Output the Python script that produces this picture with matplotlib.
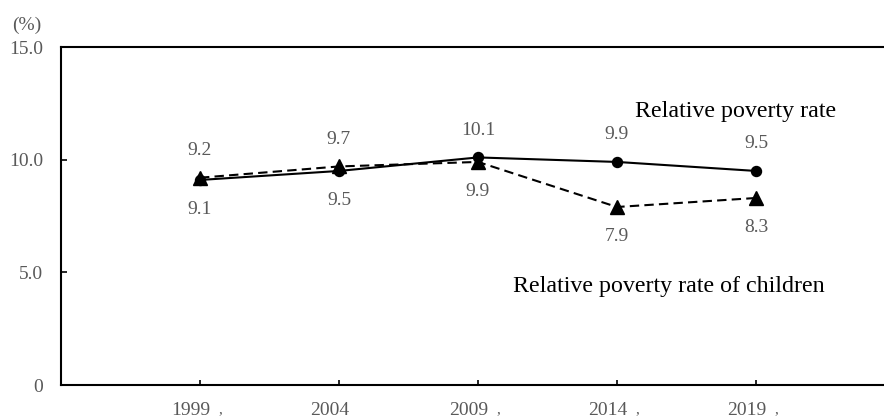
import matplotlib
matplotlib.use('Agg')
import matplotlib.pyplot as plt

years = ['1999', '2004', '2009', '2014', '2019']
year_marks = [',', '', ',', ',', ',']
poverty_rate = [9.1, 9.5, 10.1, 9.9, 9.5]
child_poverty_rate = [9.2, 9.7, 9.9, 7.9, 8.3]
# label placement: +1 above the point, -1 below
poverty_label_side = [-1, -1, 1, 1, 1]
child_label_side = [1, 1, -1, -1, -1]

plt.rcParams['font.family'] = ['Liberation Serif', 'DejaVu Serif']
gray = '#595959'

fig = plt.figure(figsize=(8.84, 4.19), dpi=100)
ax = fig.add_axes([0.069, 0.0811, 0.9434, 0.8067])

x = list(range(len(years)))
ax.plot(x, poverty_rate, color='black', lw=1.5, marker='o', markersize=7.2)
ax.plot(x, child_poverty_rate, color='black', lw=1.5, ls=(0, (4.5, 2.5)),
        marker='^', markersize=9.5)

for i in x:
    s = poverty_label_side[i]
    ax.annotate(f'{poverty_rate[i]:.1f}', (i, poverty_rate[i]),
                xytext=(0, 19.5 if s > 0 else -21), textcoords='offset points',
                ha='center', va='center', fontsize=14, color=gray)
    s = child_label_side[i]
    ax.annotate(f'{child_poverty_rate[i]:.1f}', (i, child_poverty_rate[i]),
                xytext=(0, 19.5 if s > 0 else -21), textcoords='offset points',
                ha='center', va='center', fontsize=14, color=gray)

ax.text(3.13, 12.16, 'Relative poverty rate', fontsize=17.3, color='black',
        ha='left', va='center')
ax.text(2.25, 4.39, 'Relative poverty rate of children', fontsize=17.3,
        color='black', ha='left', va='center')

ax.set_xlim(-1, 5)
ax.set_ylim(0, 15)
ax.set_xticks(x)
ax.set_xticklabels([])
# year labels sit a little left of the tick, small marks follow to the right
for i in x:
    ax.annotate(years[i], (i, 0), xycoords=('data', 'axes fraction'),
                xytext=(-6.8, -21.5), textcoords='offset points',
                ha='center', va='baseline', fontsize=14, color=gray,
                annotation_clip=False)
    if year_marks[i]:
        ax.annotate(year_marks[i], (i, 0), xycoords=('data', 'axes fraction'),
                    xytext=(14.4, -20.5), textcoords='offset points',
                    ha='center', va='baseline', fontsize=11, color=gray,
                    annotation_clip=False)
ax.set_yticks([0, 5, 10, 15])
ax.set_yticklabels(['0', '5.0', '10.0', '15.0'])
ax.tick_params(axis='both', direction='in', colors='black', labelcolor=gray,
               labelsize=14, width=1.2)
ax.tick_params(axis='x', length=3.5)
ax.tick_params(axis='y', length=4.5, pad=13)
for sp in ax.spines.values():
    sp.set_linewidth(1.5)

fig.text(0.0305, 0.94, '(%)', fontsize=14, color=gray, ha='center', va='center')

fig.savefig('out.png', dpi=100)
